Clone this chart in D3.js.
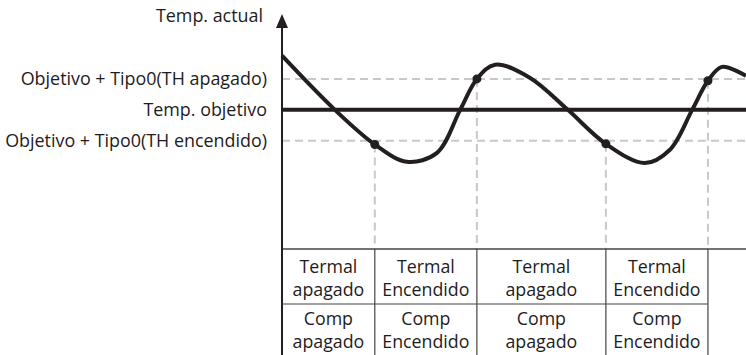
<!DOCTYPE html>
<html>
<head>
<meta charset="utf-8">
<script src="https://cdn.jsdelivr.net/npm/d3@7"></script>
<style>
  body { margin: 0; background: #fff; }
  text { font-family: "Open Sans", sans-serif; fill: #1e1b1c; }
</style>
</head>
<body>
<div id="chart-area"></div>
<script>
// curve of the actual temperature (time, temp relative to target)
const curveTimes = [0, 11.4, 20, 26.9, 33.4, 38.4, 42, 45.9, 53.4, 61.6, 69.8, 78.2, 83.6, 88.4, 91.8, 94.8, 100];
const curveTemps = [1.75, 0, -1.12, -1.68, -1.39, 0, 1.0, 1.46, 1.04, 0, -1.1, -1.72, -1.29, 0, 0.94, 1.39, 1.1];

// switching moments (dots + dashed verticals)
const switchTimes = [20, 42, 69.8, 91.8];
const switchTemps = [-1.12, 1.0, -1.1, 0.94];

// y tick labels
const tickTemps = [1, 0, -1];
const tickLabels = ['Objetivo + Tipo0(TH apagado)', 'Temp. objetivo', 'Objetivo + Tipo0(TH encendido)'];
const axisTitle = 'Temp. actual';

// table under the chart
const phaseStarts = [0, 20, 42, 69.8];
const phaseEnds = [20, 42, 69.8, 91.8];
const thermalRow = [['Termal', 'apagado'], ['Termal', 'Encendido'], ['Termal', 'apagado'], ['Termal', 'Encendido']];
const compRow = [['Comp', 'apagado'], ['Comp', 'Encendido'], ['Comp', 'apagado'], ['Comp', 'Encendido']];

window.addEventListener('DOMContentLoaded', () => {
    const W = 746, H = 355;
    const left = 282, top = 14, axisY = 249;

    const svg = d3.select('#chart-area').append('svg')
        .attr('width', W).attr('height', H);

    const x = d3.scaleLinear().domain([0, 100]).range([left, W]);
    const y = d3.scaleLinear().domain([-4.5, 3.1]).range([axisY, top]);

    const ink = '#231f20';
    const dash = '#c8c8c8';

    // horizontal dashed thresholds
    svg.selectAll('.hdash').data([1, -1]).enter().append('line')
        .attr('x1', left).attr('x2', W)
        .attr('y1', d => y(d)).attr('y2', d => y(d))
        .attr('stroke', dash).attr('stroke-width', 2).attr('stroke-dasharray', '8,5');

    // vertical dashed lines
    svg.selectAll('.vdash').data(switchTimes).enter().append('line')
        .attr('x1', d => x(d)).attr('x2', d => x(d))
        .attr('y1', (d, i) => y(switchTemps[i])).attr('y2', axisY)
        .attr('stroke', dash).attr('stroke-width', 2).attr('stroke-dasharray', '8,5');

    // target line
    svg.append('line')
        .attr('x1', left).attr('x2', W)
        .attr('y1', y(0)).attr('y2', y(0))
        .attr('stroke', ink).attr('stroke-width', 4);

    // actual temperature curve
    const pts = curveTimes.map((t, i) => [t, curveTemps[i]]);
    const line = d3.line()
        .x(d => x(d[0])).y(d => y(d[1]))
        .curve(d3.curveCatmullRom.alpha(0.5));
    svg.append('path')
        .attr('d', line(pts))
        .attr('fill', 'none').attr('stroke', ink).attr('stroke-width', 4)
        .attr('stroke-linejoin', 'round');

    svg.selectAll('.dot').data(switchTimes).enter().append('circle')
        .attr('cx', d => x(d)).attr('cy', (d, i) => y(switchTemps[i]))
        .attr('r', 4.5).attr('fill', ink);

    // axes
    svg.append('line')
        .attr('x1', left).attr('x2', W).attr('y1', axisY).attr('y2', axisY)
        .attr('stroke', '#444').attr('stroke-width', 1.5);
    svg.append('line')
        .attr('x1', left).attr('x2', left).attr('y1', top + 12).attr('y2', H)
        .attr('stroke', ink).attr('stroke-width', 2);
    svg.append('path')
        .attr('d', `M${left},${top} L${left - 6},${top + 14} L${left + 6},${top + 14} Z`)
        .attr('fill', ink);

    const yAxis = d3.axisLeft(y)
        .tickValues(tickTemps)
        .tickFormat((d, i) => tickLabels[i])
        .tickSize(0).tickPadding(15);
    const ga = svg.append('g')
        .attr('transform', `translate(${left},0)`)
        .call(yAxis);
    ga.select('.domain').remove();
    ga.selectAll('text')
        .attr('font-size', 17.9).attr('font-family', '"Open Sans", sans-serif')
        .attr('fill', '#1e1b1c');

    svg.append('text')
        .attr('x', left - 19).attr('y', 16).attr('dy', '0.35em')
        .attr('text-anchor', 'end').attr('font-size', 17.9)
        .text(axisTitle);

    // table
    const rowTop = axisY, rowMid = 304, rowBot = H;
    const tbl = svg.append('g');
    tbl.append('line')
        .attr('x1', left).attr('x2', x(phaseEnds[phaseEnds.length - 1]))
        .attr('y1', rowMid).attr('y2', rowMid)
        .attr('stroke', '#444').attr('stroke-width', 1.2);
    tbl.selectAll('.vcell').data(phaseEnds).enter().append('line')
        .attr('x1', d => x(d)).attr('x2', d => x(d))
        .attr('y1', rowTop).attr('y2', rowBot)
        .attr('stroke', '#444').attr('stroke-width', 1.2);

    const rows = [{ cells: thermalRow, cy: 278.5 }, { cells: compRow, cy: 330 }];
    rows.forEach(r => {
        r.cells.forEach((c, i) => {
            const cx = (x(phaseStarts[i]) + x(phaseEnds[i])) / 2;
            const t = tbl.append('text')
                .attr('x', cx).attr('text-anchor', 'middle')
                .attr('font-size', 17.8);
            c.forEach((s, j) => {
                t.append('tspan').attr('x', cx)
                    .attr('y', r.cy + (j - 0.5) * 23).attr('dy', '0.35em')
                    .text(s);
            });
        });
    });
});
</script>
</body>
</html>
